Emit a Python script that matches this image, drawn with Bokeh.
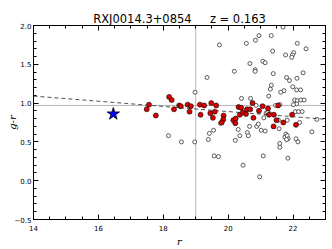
from bokeh.plotting import figure
from bokeh.models import (Span, Title, LinearAxis, SingleIntervalTicker, PrintfTickFormatter,
                          CustomJSTickFormatter)
from bokeh.embed import file_html
from bokeh.resources import INLINE

# ---- data ----
member_r = [18.18, 18.26, 17.56, 17.49, 17.77, 18.33, 18.49, 18.54, 18.75, 18.85,
            18.81, 19.13, 19.26, 19.48, 19.63, 19.15, 19.45, 19.59, 19.53, 19.86,
            19.85, 19.80, 20.16, 20.23, 20.22, 20.32, 20.40, 20.36, 20.45, 20.55,
            20.58, 20.68, 20.75, 20.78, 20.95, 21.06, 21.23, 21.26, 21.41, 21.54,
            21.49, 21.40, 21.70, 21.97, 22.09]
member_gr = [1.08, 1.04, 0.98, 0.92, 0.84, 0.92, 0.97, 0.96, 0.98, 0.96,
             0.89, 0.98, 0.97, 1.00, 0.97, 0.85, 0.87, 0.89, 0.81, 0.84,
             0.79, 0.75, 0.78, 0.80, 0.74, 0.95, 0.94, 0.85, 0.88, 0.86,
             0.92, 0.92, 1.00, 0.81, 0.90, 0.96, 0.93, 0.85, 0.85, 0.97,
             0.78, 0.70, 0.75, 0.85, 0.72]

field_r = [21.69, 20.95, 21.33, 20.84, 20.56, 19.73, 22.13, 22.40, 21.37, 22.02,
           21.98, 21.77, 21.96, 21.07, 21.14, 20.67, 20.83, 20.83, 20.19, 21.39,
           22.31, 19.35, 21.80, 21.89, 22.12, 21.33, 21.30, 21.99, 22.11, 22.23,
           21.72, 21.62, 18.98, 20.41, 20.69, 21.25, 22.05, 22.13, 22.24, 22.34,
           22.11, 20.86, 21.59, 21.46, 22.01,
           22.07, 22.17, 22.28, 21.10, 21.17, 21.22, 21.30, 21.55, 21.82, 22.20,
           22.73, 19.76, 20.66, 20.88, 20.93, 21.57, 20.31, 21.02, 21.14, 19.55,
           19.42, 20.59, 22.58, 18.16, 20.36, 20.62, 21.78, 21.75, 21.82, 21.85,
           21.80, 19.39, 20.22, 22.09, 22.15, 18.56, 18.97, 21.59, 21.59, 19.57,
           19.70, 21.08, 21.84, 20.46, 20.97]
field_gr = [1.98, 1.87, 1.87, 1.81, 1.77, 1.75, 1.77, 1.70, 1.67, 1.65,
            1.62, 1.62, 1.59, 1.54, 1.52, 1.51, 1.43, 1.41, 1.41, 1.38,
            1.39, 1.33, 1.33, 1.29, 1.32, 1.23, 1.18, 1.21, 1.17, 1.17,
            1.16, 1.14, 1.14, 1.06, 1.06, 1.09, 1.04, 1.03, 1.04, 1.04,
            0.99, 0.97, 0.98, 0.97, 0.98,
            0.89, 0.89, 0.89, 0.81, 0.87, 0.88, 0.86, 0.78, 0.78, 0.75,
            0.79, 0.74, 0.70, 0.70, 0.73, 0.67, 0.66, 0.65, 0.64, 0.65,
            0.61, 0.62, 0.63, 0.58, 0.58, 0.58, 0.60, 0.56, 0.58, 0.54,
            0.53, 0.53, 0.52, 0.54, 0.50, 0.50, 0.50, 0.48, 0.43, 0.32,
            0.31, 0.32, 0.29, 0.20, 0.05]

bcg_r = [16.46]
bcg_gr = [0.86]

fit_intercept = 1.557
fit_slope = -0.0333
fit_r = [14.0, 23.0]
fit_gr = [fit_intercept + fit_slope * r for r in fit_r]

r_cut = 19.0
gr_ref = 0.97

title_name = "RXJ0014.3+0854"
title_redshift = "z = 0.163"
title_text = title_name + "\u00a0" * 5 + title_redshift

x_ticks_interval = 2
y_ticks_interval = 0.5

# ---- figure ----
W, H = 332, 249
p = figure(width=W, height=H, x_range=(14, 23), y_range=(-0.5, 2.0),
           output_backend="svg", toolbar_location=None,
           min_border_left=33, min_border_right=7, min_border_top=25, min_border_bottom=28)
p.grid.visible = False
p.outline_line_color = "black"
p.outline_line_width = 1
p.background_fill_color = "white"
p.border_fill_color = "white"

p.xaxis.ticker = SingleIntervalTicker(interval=x_ticks_interval, num_minor_ticks=4)
p.yaxis.ticker = SingleIntervalTicker(interval=y_ticks_interval, num_minor_ticks=5)
p.yaxis.formatter = PrintfTickFormatter(format="%.1f")

for ax in (p.xaxis[0], p.yaxis[0]):
    ax.major_tick_in = 5
    ax.major_tick_out = 0
    ax.minor_tick_in = 3
    ax.minor_tick_out = 0
    ax.axis_line_color = "black"
    ax.major_tick_line_color = "black"
    ax.minor_tick_line_color = "black"
    ax.major_label_text_font = "DejaVu Sans"
    ax.major_label_text_font_size = "7px"
    ax.major_label_text_color = "black"
    ax.axis_label_text_font = "DejaVu Serif"
    ax.axis_label_text_font_style = "italic"
    ax.axis_label_text_font_size = "10px"
    ax.axis_label_text_color = "black"

p.xaxis.axis_label = "r"
p.xaxis.major_label_standoff = 5
p.xaxis.axis_label_standoff = 2
p.yaxis.axis_label = "g-r"
p.yaxis.major_label_standoff = 2
p.yaxis.axis_label_standoff = -6
p.yaxis.major_label_overrides = {-0.5: "\u22120.5"}

blank = CustomJSTickFormatter(code="return ''")
top = LinearAxis(ticker=SingleIntervalTicker(interval=x_ticks_interval, num_minor_ticks=4),
                 formatter=blank)
right = LinearAxis(ticker=SingleIntervalTicker(interval=y_ticks_interval, num_minor_ticks=5),
                   formatter=blank)
for ax in (top, right):
    ax.major_tick_in = 5
    ax.major_tick_out = 0
    ax.minor_tick_in = 3
    ax.minor_tick_out = 0
    ax.major_label_text_color = None
    ax.major_label_standoff = 0
    ax.axis_label_standoff = 0
    ax.axis_line_color = "black"
    ax.major_tick_line_color = "black"
    ax.minor_tick_line_color = "black"
p.add_layout(top, "above")
p.add_layout(right, "right")

p.add_layout(Title(text=title_text, align="center", standoff=0,
                   text_font="DejaVu Sans", text_font_style="normal",
                   text_font_size="11.5px", text_color="black"), "above")

p.add_layout(Span(location=r_cut, dimension="height", line_color="#b4b4b4",
                  line_width=1, level="underlay"))
p.add_layout(Span(location=gr_ref, dimension="width", line_color="#b4b4b4",
                  line_width=1, level="underlay"))

p.scatter(field_r, field_gr, marker="circle", size=4, fill_color="white",
          line_color="#333333", line_width=0.8)
p.line(fit_r, fit_gr, line_color="#333333", line_width=1, line_dash="4 3", line_alpha=0.85)
p.scatter(member_r, member_gr, marker="circle", size=5, fill_color="#dd0000",
          line_color="black", line_width=0.6)
p.scatter(bcg_r, bcg_gr, marker="star", size=13, fill_color="#0000ff",
          line_color="black", line_width=0.8)

open("out.html", "w").write(file_html(p, INLINE))
